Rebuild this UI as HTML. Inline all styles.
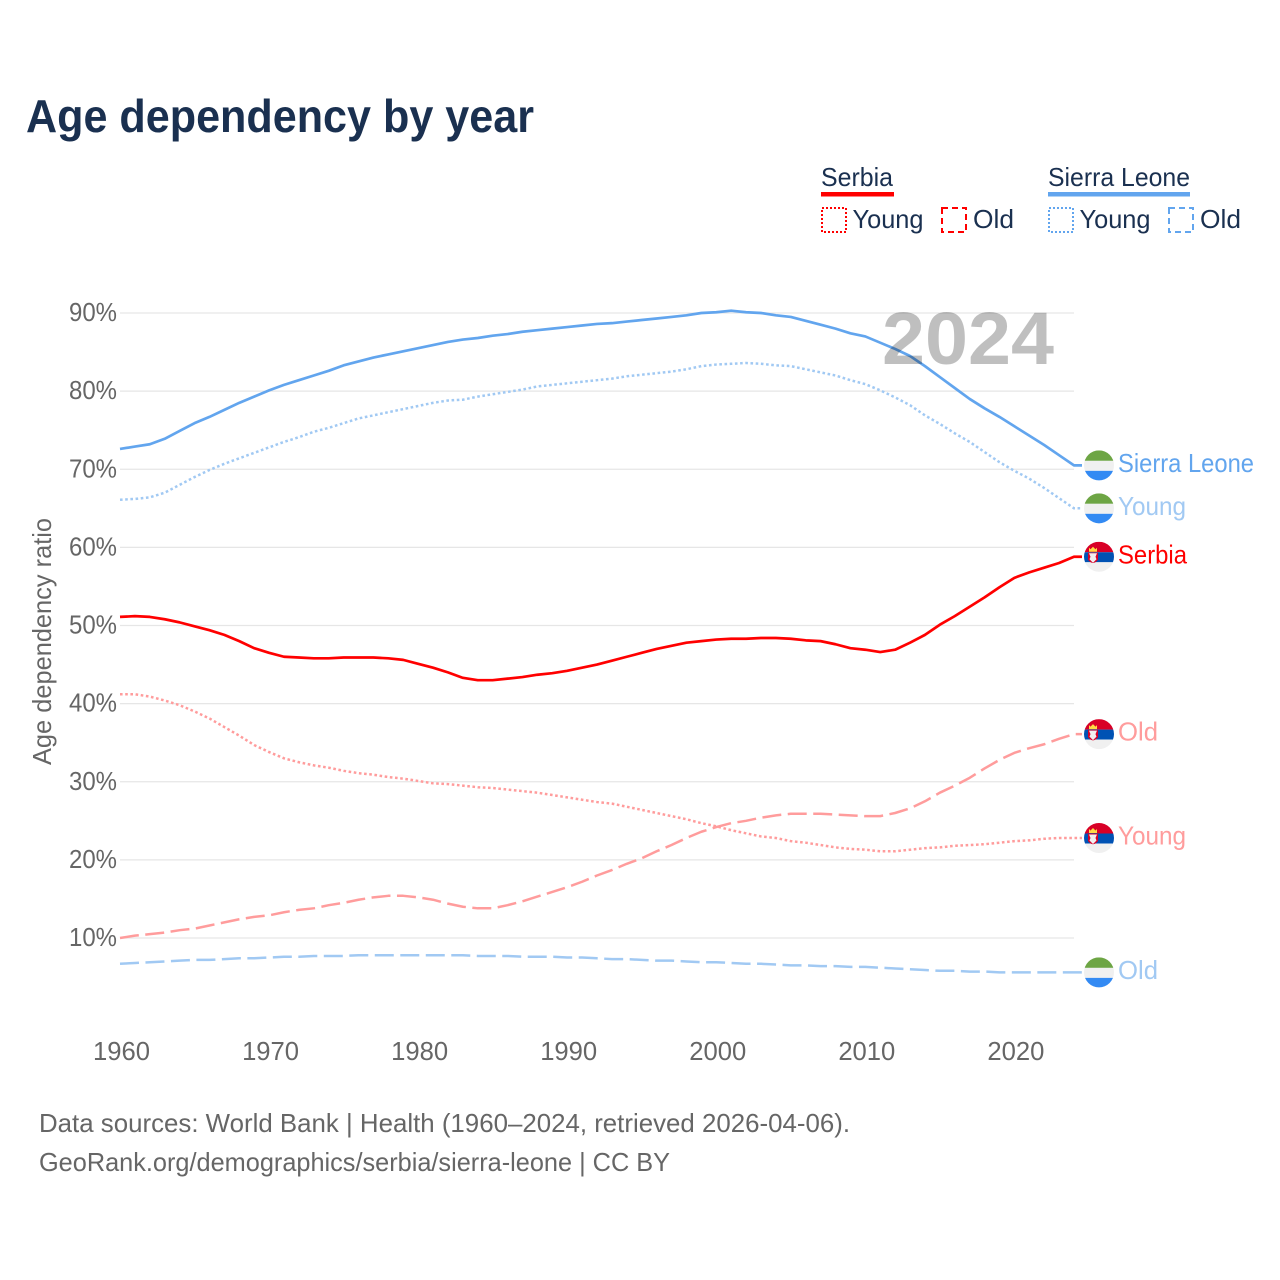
<!DOCTYPE html>
<html lang="en">
<head>
<meta charset="utf-8">
<title>Age dependency by year</title>
<style>
  html, body { margin: 0; padding: 0; background: #fff; }
  svg { display: block; font-family: "Liberation Sans", sans-serif; }
</style>
</head>
<body>
<svg id="chart" xmlns="http://www.w3.org/2000/svg" width="1280" height="1280" viewBox="0 0 1280 1280">
  <defs>
    <clipPath id="flag-clip"><circle cx="0" cy="0" r="15"></circle></clipPath>
  </defs>
  <rect x="0" y="0" width="1280" height="1280" fill="#fff"></rect>

  <text x="26" y="132" font-size="46" font-weight="700" fill="#1a3050" textLength="508" lengthAdjust="spacingAndGlyphs">Age dependency by year</text>

  <g font-size="26" fill="#1a3050">
    <text x="821" y="186" textLength="72" lengthAdjust="spacingAndGlyphs">Serbia</text>
    <rect x="821" y="192" width="73" height="4.5" fill="#ff0000"></rect>
    <rect x="822" y="208" width="24" height="24" fill="none" stroke="#ff0000" stroke-width="2" stroke-dasharray="2 2"></rect>
    <text x="852.500" y="228" textLength="71" lengthAdjust="spacingAndGlyphs">Young</text>
    <rect x="942" y="208" width="24" height="24" fill="none" stroke="#ff0000" stroke-width="2" stroke-dasharray="6 4"></rect>
    <text x="973" y="228" textLength="41" lengthAdjust="spacingAndGlyphs">Old</text>

    <text x="1048" y="186" textLength="142" lengthAdjust="spacingAndGlyphs">Sierra Leone</text>
    <rect x="1048" y="192" width="142" height="4.5" fill="#62a5ee"></rect>
    <rect x="1049" y="208" width="24" height="24" fill="none" stroke="#62a5ee" stroke-width="2" stroke-dasharray="2 2"></rect>
    <text x="1079.500" y="228" textLength="71" lengthAdjust="spacingAndGlyphs">Young</text>
    <rect x="1169" y="208" width="24" height="24" fill="none" stroke="#62a5ee" stroke-width="2" stroke-dasharray="6 4"></rect>
    <text x="1200" y="228" textLength="41" lengthAdjust="spacingAndGlyphs">Old</text>
  </g>

  <g id="grid"></g>
  <g id="yticks"></g>
  <g id="xticks"></g>
  <text transform="translate(51 765) rotate(-90)" font-size="26" fill="#666" textLength="247" lengthAdjust="spacingAndGlyphs">Age dependency ratio</text>
  <g id="series"></g>
  <text x="882" y="364" font-size="74" font-weight="700" fill="#000" fill-opacity="0.25" textLength="172" lengthAdjust="spacingAndGlyphs">2024</text>
  <g id="ends"></g>

  <g font-size="26" fill="#666">
    <text x="39" y="1132" textLength="811" lengthAdjust="spacingAndGlyphs">Data sources: World Bank | Health (1960–2024, retrieved 2026-04-06).</text>
    <text x="39" y="1171" textLength="631" lengthAdjust="spacingAndGlyphs">GeoRank.org/demographics/serbia/sierra-leone | CC BY</text>
  </g>
</svg>

<script>
const firstYear = 1960;
const yTickValues = [10, 20, 30, 40, 50, 60, 70, 80, 90];
const xTickValues = [1960, 1970, 1980, 1990, 2000, 2010, 2020];

const serbiaTotal = [51.1,51.2,51.1,50.8,50.4,49.9,49.4,48.8,48.0,47.1,
  46.5,46.0,45.9,45.8,45.8,45.9,45.9,45.9,45.8,45.6,
  45.1,44.6,44.0,43.3,43.0,43.0,43.2,43.4,43.7,43.9,
  44.2,44.6,45.0,45.5,46.0,46.5,47.0,47.4,47.8,48.0,
  48.2,48.3,48.3,48.4,48.4,48.3,48.1,48.0,47.6,47.1,
  46.9,46.6,46.9,47.8,48.8,50.1,51.2,52.4,53.6,54.9,
  56.1,56.8,57.4,58.0,58.8];
const serbiaYoung = [41.2,41.2,40.9,40.4,39.8,39.0,38.1,37.0,35.9,34.7,
  33.8,33.0,32.5,32.1,31.8,31.4,31.1,30.9,30.6,30.4,
  30.1,29.8,29.7,29.5,29.3,29.2,29.0,28.8,28.6,28.3,
  28.0,27.7,27.4,27.2,26.8,26.4,26.0,25.6,25.2,24.7,
  24.3,23.8,23.4,23.0,22.8,22.4,22.2,21.9,21.6,21.4,
  21.3,21.1,21.1,21.3,21.5,21.6,21.8,21.9,22.0,22.2,
  22.4,22.5,22.7,22.8,22.8];
const serbiaOld = [10.0,10.3,10.5,10.7,11.0,11.2,11.6,12.0,12.4,12.7,
  12.9,13.3,13.6,13.8,14.2,14.5,14.9,15.2,15.4,15.4,
  15.2,14.9,14.4,14.0,13.8,13.8,14.2,14.7,15.3,15.9,
  16.5,17.2,18.0,18.7,19.5,20.2,21.1,21.9,22.8,23.6,
  24.2,24.7,25.0,25.4,25.7,25.9,25.9,25.9,25.8,25.7,
  25.6,25.6,26.0,26.6,27.5,28.6,29.5,30.5,31.7,32.8,
  33.7,34.3,34.8,35.5,36.1];
const sierraLeoneTotal = [72.6,72.9,73.2,73.9,74.9,75.9,76.7,77.6,78.5,79.3,
  80.1,80.8,81.4,82.0,82.6,83.3,83.8,84.3,84.7,85.1,
  85.5,85.9,86.3,86.6,86.8,87.1,87.3,87.6,87.8,88.0,
  88.2,88.4,88.6,88.7,88.9,89.1,89.3,89.5,89.7,90.0,
  90.1,90.3,90.1,90.0,89.7,89.5,89.0,88.5,88.0,87.4,
  87.0,86.2,85.4,84.5,83.2,81.8,80.4,79.0,77.8,76.7,
  75.5,74.3,73.1,71.8,70.5];
const sierraLeoneYoung = [66.1,66.2,66.4,67.0,68.0,69.0,69.9,70.7,71.4,72.1,
  72.8,73.5,74.1,74.8,75.3,75.9,76.5,76.9,77.3,77.7,
  78.1,78.5,78.8,78.9,79.3,79.6,79.9,80.2,80.6,80.8,
  81.0,81.2,81.4,81.6,81.9,82.1,82.3,82.5,82.8,83.2,
  83.4,83.5,83.6,83.5,83.3,83.2,82.8,82.4,82.0,81.4,
  80.9,80.1,79.2,78.2,76.9,75.8,74.6,73.5,72.2,70.9,
  69.8,68.8,67.6,66.3,65.0];
const sierraLeoneOld = [6.7,6.8,6.9,7.0,7.1,7.2,7.2,7.3,7.4,7.4,
  7.5,7.6,7.6,7.7,7.7,7.7,7.8,7.8,7.8,7.8,
  7.8,7.8,7.8,7.8,7.7,7.7,7.7,7.6,7.6,7.6,
  7.5,7.5,7.4,7.3,7.3,7.2,7.1,7.1,7.0,6.9,
  6.9,6.8,6.7,6.7,6.6,6.5,6.5,6.4,6.4,6.3,
  6.3,6.2,6.1,6.0,5.9,5.8,5.8,5.7,5.7,5.6,
  5.6,5.6,5.6,5.6,5.6];

const seriesList = [
  { key: 'sierra-leone-old', label: 'Old', flag: 'sl', values: sierraLeoneOld, color: '#a1c9f3', width: 2.5, dash: '19 6.5', labelWidth: 40 },
  { key: 'sierra-leone-young', label: 'Young', flag: 'sl', values: sierraLeoneYoung, color: '#a1c9f3', width: 2.5, dash: '2.6 2.6', labelWidth: 68 },
  { key: 'sierra-leone', label: 'Sierra Leone', flag: 'sl', values: sierraLeoneTotal, color: '#62a5ee', width: 2.7, dash: '', labelWidth: 136 },
  { key: 'serbia-old', label: 'Old', flag: 'rs', values: serbiaOld, color: '#ff9c9c', width: 2.5, dash: '19 6.5', labelWidth: 40 },
  { key: 'serbia-young', label: 'Young', flag: 'rs', values: serbiaYoung, color: '#ff9c9c', width: 2.5, dash: '2.6 2.6', labelWidth: 68 },
  { key: 'serbia', label: 'Serbia', flag: 'rs', values: serbiaTotal, color: '#ff0000', width: 2.7, dash: '', labelWidth: 69 }
];

const SVG_NS = 'http://www.w3.org/2000/svg';
const xScale = function (year) { return 120 + (year - firstYear) * (954 / 64); };
const yScale = function (v) { return 938 - (v - 10) * 7.8125; };
const lastYear = firstYear + serbiaTotal.length - 1;

function make(tag, attrs, parent) {
  const el = document.createElementNS(SVG_NS, tag);
  Object.keys(attrs).forEach(function (k) { el.setAttribute(k, attrs[k]); });
  parent.appendChild(el);
  return el;
}

const gridGroup = document.getElementById('grid');
const yGroup = document.getElementById('yticks');
yTickValues.forEach(function (v) {
  const line = make('line', { x1: xScale(firstYear), x2: xScale(lastYear), y1: yScale(v), y2: yScale(v), stroke: '#e6e6e6', 'stroke-width': 1.2 }, gridGroup);
  
  
  const t = make('text', { x: 117, y: yScale(v) + 8, 'text-anchor': 'end', 'font-size': 26, fill: '#666', textLength: 48, lengthAdjust: 'spacingAndGlyphs' }, yGroup);
  t.textContent = v + '%';
  
  
});

const xGroup = document.getElementById('xticks');
xTickValues.forEach(function (year) {
  const t = make('text', { x: xScale(year) + 1.5, y: 1060, 'text-anchor': 'middle', 'font-size': 26, fill: '#666', textLength: 57, lengthAdjust: 'spacingAndGlyphs' }, xGroup);
  t.textContent = String(year);
  
  
});

function drawFlag(kind, cx, cy, parent) {
  const g = make('g', { transform: 'translate(' + cx + ' ' + cy + ')', 'clip-path': 'url(#flag-clip)' }, parent);
  if (kind === 'sl') {
    make('rect', { x: -15, y: -15, width: 30, height: 10.5, fill: '#6da544' }, g);
    make('rect', { x: -15, y: -4.5, width: 30, height: 10, fill: '#f0f0f0' }, g);
    make('rect', { x: -15, y: 5.5, width: 30, height: 10, fill: '#338af3' }, g);
  } else {
    make('rect', { x: -15, y: -15, width: 30, height: 10.5, fill: '#d80027' }, g);
    make('rect', { x: -15, y: -4.5, width: 30, height: 10, fill: '#0052b4' }, g);
    make('rect', { x: -15, y: 5.5, width: 30, height: 10, fill: '#f0f0f0' }, g);
    make('path', { d: 'M-11 -4 H-1 V3 Q-6 9.500 -11 3 Z', fill: '#d80027' }, g);
    make('path', { d: 'M-10 -9 L-8.500 -7.500 L-6 -10 L-3.500 -7.500 L-2 -9 V-5 H-10 Z', fill: '#ffda44' }, g);
    make('path', { d: 'M-10 -3.500 H-2 L-3.500 0 L-2.500 2.500 L-6 6 L-9.500 2.500 L-8.500 0 Z', fill: '#f0f0f0' }, g);
  }
  return g;
}

const seriesGroup = document.getElementById('series');
const endGroup = document.getElementById('ends');
seriesList.forEach(function (s) {
  const lastX = xScale(lastYear);
  const lastY = yScale(s.values[s.values.length - 1]);
  const pts = s.values.map(function (v, i) { return xScale(firstYear + i).toFixed(2) + ',' + yScale(v).toFixed(2); });
  pts.push((lastX + 8) + ',' + lastY.toFixed(2));
  const line = make('polyline', { points: pts.join(' '), fill: 'none', stroke: s.color, 'stroke-width': s.width, 'stroke-linejoin': 'round' }, seriesGroup);
  if (s.dash) { line.setAttribute('stroke-dasharray', s.dash); }
  
  

  const flag = drawFlag(s.flag, lastX + 25, lastY, endGroup);
  
  

  const label = make('text', { x: lastX + 44, y: lastY + 6.500, 'font-size': 26, fill: s.color, textLength: s.labelWidth, lengthAdjust: 'spacingAndGlyphs' }, endGroup);
  label.textContent = s.label;
  
  
});
</script>
</body>
</html>
